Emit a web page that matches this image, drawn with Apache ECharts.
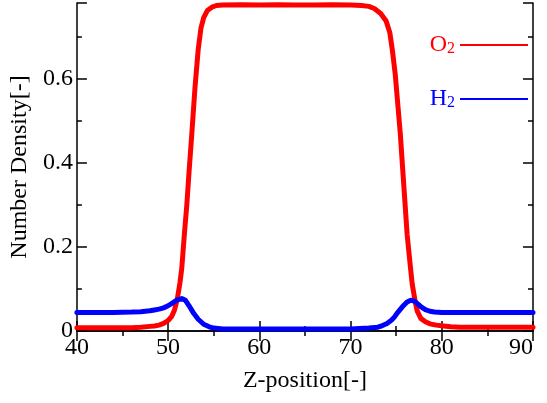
<!DOCTYPE html>
<html>
<head>
<meta charset="utf-8">
<script src="https://cdn.jsdelivr.net/npm/echarts@6/dist/echarts.min.js"></script>
<style>html,body{margin:0;padding:0;background:#fff}#c{width:547px;height:403px}</style>
</head>
<body>
<div id="c"></div>
<script>
var seriesNames = ['O2', 'H2'];
var xTicks = [40, 50, 60, 70, 80, 90];
var yTicks = [0, 0.2, 0.4, 0.6];

var o2X = [40, 42, 44, 46, 47, 48, 48.5, 49, 49.5, 50, 50.4, 50.7, 51, 51.3, 51.5, 51.8, 52.05, 52.3, 52.6, 52.95, 53.3, 53.6, 53.9, 54.3, 54.8, 55.3, 56, 58, 60, 62, 64, 66, 68, 70, 71.2, 72, 72.6, 73.3, 73.9, 74.3, 74.6, 74.9, 75.15, 75.45, 75.7, 75.95, 76.2, 76.5, 76.75, 77.1, 77.3, 77.7, 78.2, 78.7, 79.4, 80.2, 81, 82, 84, 86, 88, 90];
var o2Y = [0.008, 0.008, 0.008, 0.008, 0.009, 0.011, 0.012, 0.014, 0.018, 0.025, 0.035, 0.05, 0.075, 0.115, 0.15, 0.235, 0.30, 0.38, 0.47, 0.58, 0.67, 0.72, 0.745, 0.762, 0.770, 0.774, 0.775, 0.776, 0.775, 0.776, 0.775, 0.775, 0.776, 0.775, 0.774, 0.772, 0.767, 0.755, 0.737, 0.71, 0.665, 0.61, 0.546, 0.47, 0.39, 0.31, 0.23, 0.165, 0.113, 0.068, 0.048, 0.030, 0.022, 0.017, 0.014, 0.012, 0.010, 0.009, 0.009, 0.009, 0.009, 0.009];

var h2X = [40, 44, 46, 47, 48, 48.5, 49, 49.5, 50, 50.5, 51, 51.5, 51.9, 52.3, 52.8, 53.3, 53.9, 54.5, 55, 56, 58, 60, 62, 64, 66, 68, 70, 71, 72, 73, 73.5, 74, 74.5, 74.8, 75.2, 75.7, 76.2, 76.6, 77, 77.4, 77.7, 78.2, 78.7, 79.2, 80, 82, 84, 86, 88, 90];
var h2Y = [0.044, 0.044, 0.045, 0.046, 0.048, 0.050, 0.052, 0.055, 0.060, 0.067, 0.074, 0.077, 0.073, 0.060, 0.042, 0.028, 0.016, 0.010, 0.007, 0.005, 0.005, 0.005, 0.005, 0.005, 0.005, 0.005, 0.005, 0.006, 0.007, 0.009, 0.013, 0.018, 0.026, 0.033, 0.045, 0.058, 0.069, 0.073, 0.071, 0.064, 0.058, 0.051, 0.047, 0.045, 0.044, 0.044, 0.044, 0.044, 0.044, 0.044];

function pairs(xs, ys) { return xs.map(function (x, i) { return [x, ys[i]]; }); }

var FONT = '"Liberation Serif", "Times New Roman", Times, serif';
var axisLine = { show: true, lineStyle: { color: '#000', width: 1.5 } };
var chart = echarts.init(document.getElementById('c'));
function xAx(pos, showLabel) {
  return {
    type: 'value', position: pos, min: xTicks[0], max: xTicks[xTicks.length - 1], interval: 10,
    axisLine: axisLine,
    axisTick: { show: true, inside: true, length: 10, lineStyle: { color: '#000', width: 1.5 } },
    minorTick: { show: true, splitNumber: 2, length: 5, lineStyle: { color: '#000', width: 1.5 } },
    splitLine: { show: false },
    axisLabel: { show: showLabel, color: '#000', fontFamily: FONT, fontSize: 24, margin: 5, alignMaxLabel: 'right' },
    name: showLabel ? 'Z-position[-]' : '', nameLocation: 'middle', nameGap: 38,
    nameTextStyle: { color: '#000', fontFamily: FONT, fontSize: 24 }
  };
}
function yAx(pos, showLabel) {
  return {
    type: 'value', position: pos, min: yTicks[0], max: 0.78, interval: 0.2,
    axisLine: axisLine,
    axisTick: { show: true, inside: true, length: 10, lineStyle: { color: '#000', width: 1.5 } },
    minorTick: { show: true, splitNumber: 2, length: 5, lineStyle: { color: '#000', width: 1.5 } },
    splitLine: { show: false },
    axisLabel: { show: showLabel, color: '#000', fontFamily: FONT, fontSize: 24, margin: 4, showMaxLabel: false },
    name: showLabel ? 'Number Density[-]' : '', nameLocation: 'middle', nameGap: 32,
    nameTextStyle: { color: '#000', fontFamily: FONT, fontSize: 24 }
  };
}
var rich = {
  b: { fontFamily: FONT, fontSize: 24 },
  s: { fontFamily: FONT, fontSize: 16, padding: [8, 0, 0, 0] }
};
chart.setOption({
  animation: false,
  backgroundColor: '#fff',
  grid: { left: 72, top: 3, right: 14, bottom: 72 },
  xAxis: [xAx('bottom', true), xAx('top', false)],
  yAxis: [yAx('left', true), yAx('right', false)],
  legend: {
    orient: 'vertical', right: 14, top: 28, align: 'right', itemGap: 30,
    itemWidth: 68, itemHeight: 2, icon: 'rect',
    data: [
      { name: seriesNames[0], textStyle: { color: '#ff0000', rich: rich } },
      { name: seriesNames[1], textStyle: { color: '#0000ff', rich: rich } }
    ],
    formatter: function (n) { return '{b|' + n.charAt(0) + '}{s|' + n.slice(1) + '}'; },
    textStyle: { fontFamily: FONT, fontSize: 24 }
  },
  series: [
    { name: seriesNames[0], type: 'line', data: pairs(o2X, o2Y), showSymbol: false, smooth: false,
      color: '#ff0000', lineStyle: { color: '#ff0000', width: 5, join: 'round', cap: 'round' } },
    { name: seriesNames[1], type: 'line', data: pairs(h2X, h2Y), showSymbol: false, smooth: false,
      color: '#0000ff', lineStyle: { color: '#0000ff', width: 5, join: 'round', cap: 'round' } }
  ]
});
</script>
</body>
</html>
